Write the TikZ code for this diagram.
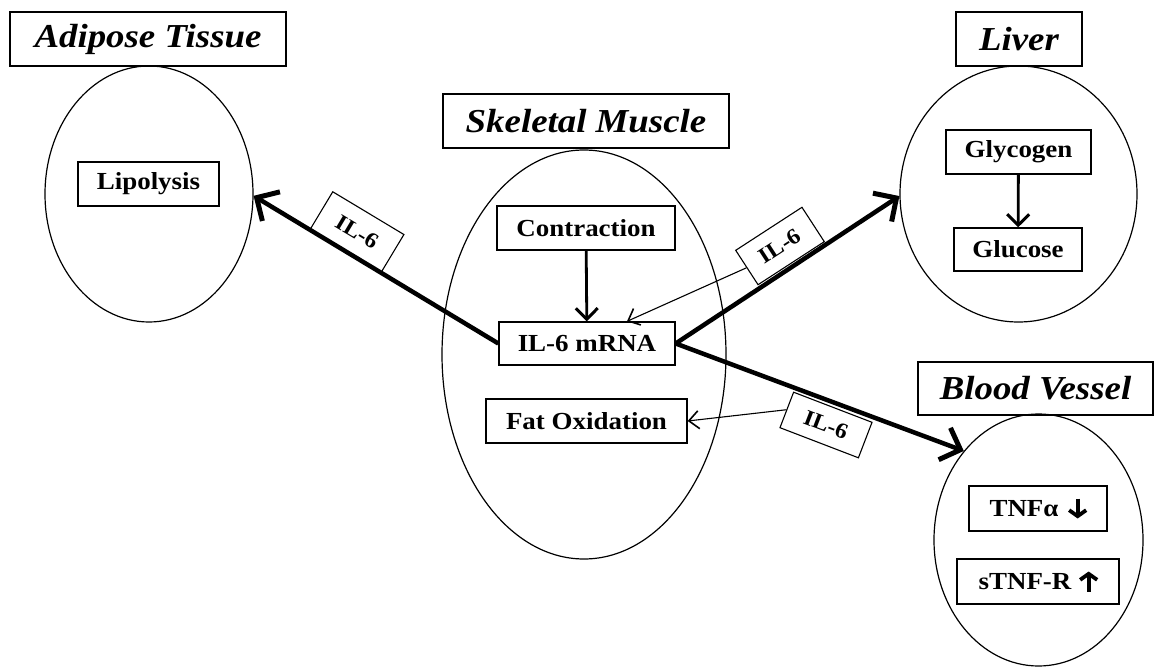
\documentclass[tikz,border=0pt]{standalone}
\usepackage{fontspec}
\setmainfont{Liberation Serif}[FakeStretch=1.1]
\usetikzlibrary{shapes.geometric, arrows.meta}
\tikzset{
 region/.style={draw, ellipse, line width=1.2pt, inner sep=0pt},
 regtitle/.style={draw, rectangle, line width=1.3pt, inner sep=0pt, font=\fontsize{33.5}{38}\selectfont\bfseries\itshape},
 inbox/.style={draw, rectangle, line width=1.3pt, inner sep=0pt, font=\fontsize{24.5}{28}\selectfont\bfseries},
 ilbox/.style={draw, rectangle, line width=1.1pt, inner sep=0pt, font=\fontsize{22}{25}\selectfont\bfseries},
 big/.style={line width=4.5pt, -{Straight Barb[length=17pt,width=34pt,line width=5pt]}},
 med/.style={line width=2.8pt, -{Straight Barb[length=11pt,width=22pt,line width=3pt]}},
 feed/.style={line width=1.1pt, -{Straight Barb[length=10pt,width=18pt,line width=1.6pt]}},
 updown/.style={line width=3.8pt, -{Straight Barb[length=6pt,width=17pt,line width=3.8pt]}},
}
\begin{document}
\begin{tikzpicture}[x=1pt, y=-1pt]
\useasboundingbox (0,0) rectangle (1154,668);
% Adipose tissue
\node[regtitle, minimum width=276pt, minimum height=54pt] (adT) at (148,39) {Adipose Tissue};
\node[region, minimum width=208pt, minimum height=256pt] (adE) at (149,194) {};
\node[inbox, minimum width=141pt, minimum height=44pt] (lip) at (148.5,184) {Lipolysis};
% Liver
\node[regtitle, minimum width=126pt, minimum height=54pt] (livT) at (1019,39) {Liver};
\node[region, minimum width=237pt, minimum height=256pt] (livE) at (1018.5,194) {};
\node[inbox, minimum width=145pt, minimum height=44pt] (gly) at (1018.5,152) {Glycogen};
\node[inbox, minimum width=128pt, minimum height=43pt] (glu) at (1018,249.5) {Glucose};
\draw[med] (gly) -- (glu);
% Skeletal muscle
\node[regtitle, minimum width=286pt, minimum height=54pt] (skT) at (586,121) {Skeletal Muscle};
\node[region, minimum width=284pt, minimum height=409pt] (skE) at (584,354.5) {};
\node[inbox, minimum width=178pt, minimum height=44pt] (con) at (586,228) {Contraction};
\node[inbox, minimum width=176pt, minimum height=43pt] (mrna) at (587,343.5) {IL-6 mRNA};
\node[inbox, minimum width=201pt, minimum height=44pt] (fat) at (586.5,421) {Fat Oxidation};
\draw[med] (con) -- (mrna);
% Blood vessel
\node[regtitle, minimum width=235pt, minimum height=53pt] (bvT) at (1035.5,388.5) {Blood Vessel};
\node[region, minimum width=209pt, minimum height=252pt] (bvE) at (1038.5,540) {};
\node[inbox, minimum width=138pt, minimum height=45pt] (tnf) at (1038,508.5) {TNFα\kern28pt};
\node[inbox, minimum width=162pt, minimum height=45pt] (stnf) at (1038,581.5) {sTNF-R\kern26pt};
\draw[updown] ([xshift=-30pt,yshift=10pt]tnf.east) -- ([xshift=-30pt,yshift=-10pt]tnf.east);
\draw[updown] ([xshift=-31pt,yshift=-10pt]stnf.east) -- ([xshift=-31pt,yshift=10pt]stnf.east);
% IL-6 labels
\node[ilbox, minimum width=83pt, minimum height=44pt, rotate=-31] (lab1) at (357,232) {IL-6};
\node[ilbox, minimum width=79pt, minimum height=41pt, rotate=33] (lab2) at (780,246) {IL-6};
\node[ilbox, minimum width=84pt, minimum height=38pt, rotate=-21] (lab3) at (826,425) {IL-6};
% connectors
\draw[big] (mrna.west) -- (adE.-1);
\draw[big] (mrna.east) -- (livE.181);
\draw[big] (mrna.east) -- (bvE.130);
\draw[feed] (lab2.west) -- ([xshift=40pt]mrna.north);
\draw[feed] (lab3.west) -- (fat.east);
\end{tikzpicture}
\end{document}
